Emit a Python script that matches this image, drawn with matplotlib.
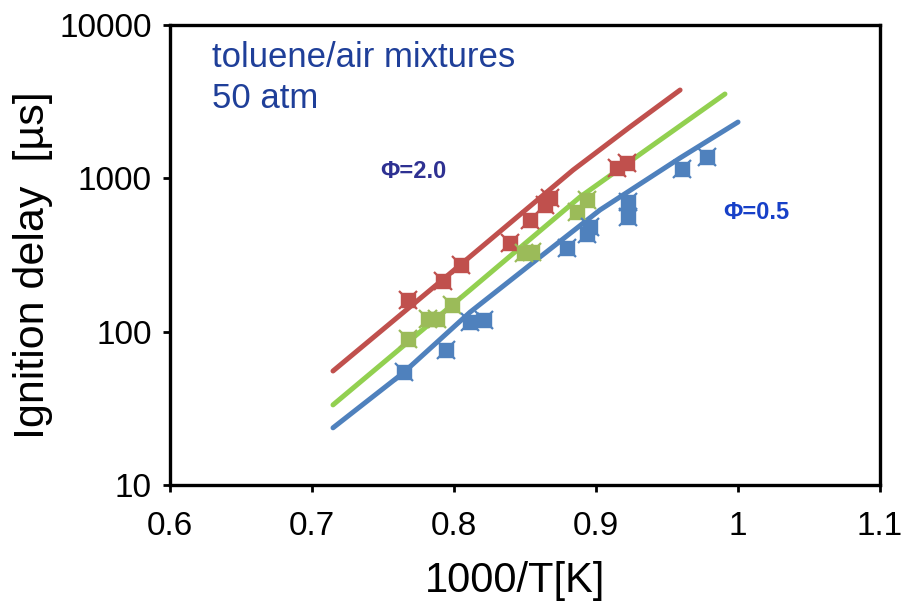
import matplotlib
matplotlib.use("Agg")
import matplotlib.pyplot as plt

plt.rcParams['font.family'] = ['Liberation Sans', 'DejaVu Sans']

# measured points, 1000/T [1/K] vs ignition delay [us]
red_x = [0.7676, 0.7923, 0.8049, 0.8394, 0.8535, 0.8641, 0.8676, 0.9148, 0.9218]
red_y = [161, 214, 272, 378, 535, 670, 745, 1167, 1259]
green_x = [0.7676, 0.7817, 0.7880, 0.7986, 0.8493, 0.8549, 0.8866, 0.8937]
green_y = [89.6, 121, 121, 149, 326, 331, 603, 722]
blue_x = [0.7648, 0.7944, 0.8113, 0.8211, 0.8796, 0.8937, 0.8958, 0.9225, 0.9225, 0.9606, 0.9782]
blue_y = [54.6, 76, 116, 119, 351, 433, 482, 560, 701, 1151, 1377]

# model curves
red_lx = [0.7148, 0.7901, 0.8838, 0.9239, 0.9592]
red_ly = [55.4, 211, 1132, 2163, 3767]
green_lx = [0.7148, 0.8113, 0.8887, 0.9352, 0.9908]
green_ly = [33.3, 187, 755, 1531, 3548]
blue_lx = [0.7148, 0.7641, 0.8113, 0.8606, 0.9028, 0.9592, 1.0]
blue_ly = [23.6, 53.7, 134, 307, 622, 1358, 2328]

xticks = [0.6, 0.7, 0.8, 0.9, 1.0, 1.1]
xticklabels = ['0.6', '0.7', '0.8', '0.9', '1', '1.1']
yticks = [10, 100, 1000, 10000]

fig = plt.figure(figsize=(9.08, 6.07), dpi=100)
ax = fig.add_axes([0.1872, 0.2010, 0.7820, 0.7578])

ax.plot(red_lx, red_ly, color='#C0504D', lw=3.6, solid_capstyle='round', zorder=2)
ax.plot(green_lx, green_ly, color='#92D050', lw=3.6, solid_capstyle='round', zorder=2)
ax.plot(blue_lx, blue_ly, color='#4F81BD', lw=3.6, solid_capstyle='round', zorder=2)

for xs, ys, c in [(red_x, red_y, '#C0504D'), (green_x, green_y, '#9BBB59'), (blue_x, blue_y, '#4F81BD')]:
    ax.plot(xs, ys, 's', color=c, ms=10, mec=c, zorder=3)
    ax.plot(xs, ys, 'x', color=c, ms=13, mew=1.6, zorder=3)

ax.set_yscale('log')
ax.set_xlim(0.6, 1.1)
ax.set_ylim(10, 10000)
ax.set_xticks(xticks)
ax.set_xticklabels(xticklabels)
ax.set_yticks(yticks)
ax.set_yticklabels([str(v) for v in yticks])
ax.minorticks_off()
ax.tick_params(direction='out', length=5, width=2, labelsize=24)
ax.tick_params(axis='x', pad=14)
ax.tick_params(axis='y', pad=8)

for s in ax.spines.values():
    s.set_linewidth(2.4)

ax.set_xlabel('1000/T[K]', fontsize=30, labelpad=10)
ax.xaxis.set_label_coords(0.486, -0.165)
ax.set_ylabel('Ignition delay  [µs]', fontsize=31)
ax.yaxis.set_label_coords(-0.165, 0.478)

ax.text(0.0595, 0.93, 'toluene/air mixtures', transform=ax.transAxes, fontsize=25,
        color='#1F3F99', va='center', ha='left')
ax.text(0.0595, 0.84, '50 atm', transform=ax.transAxes, fontsize=25,
        color='#1F3F99', va='center', ha='left')
ax.text(0.748, 1100, 'Φ=2.0', fontsize=17, fontweight='bold', color='#2E3192', va='center')
ax.text(0.9894, 603, 'Φ=0.5', fontsize=17, fontweight='bold', color='#1740C8', va='center')

fig.savefig('out.png', dpi=100)
